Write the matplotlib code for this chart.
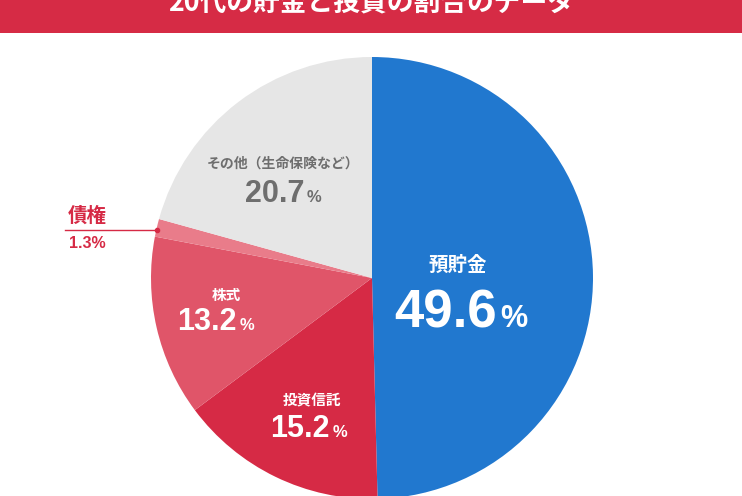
import matplotlib.pyplot as plt

plt.rcParams['font.family'] = ['Noto Sans CJK JP', 'DejaVu Sans']

# データ
labels = ['預貯金', '投資信託', '株式', '債権', 'その他（生命保険など）']
values = [49.6, 15.2, 13.2, 1.3, 20.7]
colors = ['#2178cf', '#d62a45', '#e05569', '#e97c8a', '#e6e6e6']
title = '20代の貯金と投資の割合のデータ'

W, H = 742, 496
fig = plt.figure(figsize=(W / 100, H / 100), dpi=100)
ax = fig.add_axes([0, 0, 1, 1])
ax.set_xlim(0, W)
ax.set_ylim(0, H)
ax.axis('off')

def py(y):
    # ピクセル座標(上から)をデータ座標に変換
    return H - y

# タイトル帯 (上端で切れている)
ax.add_patch(plt.Rectangle((0, py(33)), W, 33, color='#d62b45', lw=0))
ax.text(W / 2, py(2.5), title, ha='center', va='center', fontsize=19.3,
        fontweight='bold', color='white')

# 円グラフ
ax.pie(values, colors=colors, startangle=90, counterclock=False,
       center=(372, py(278)), radius=221, frame=True,
       wedgeprops=dict(linewidth=0))
ax.set_xlim(0, W)
ax.set_ylim(0, H)
ax.axis('off')

num_font = ['Liberation Sans', 'DejaVu Sans']

def pct(x_right, base, val, size, psize, color):
    ax.text(x_right, py(base), f'{val}', ha='right', va='baseline',
            fontsize=size, fontweight='bold', color=color, family=num_font)
    ax.text(x_right + 3, py(base), '%', ha='left', va='baseline',
            fontsize=psize, fontweight='bold', color=color, family=num_font)

# 預貯金
ax.text(458, py(265), labels[0], ha='center', va='center', fontsize=14,
        fontweight='bold', color='white')
pct(497, 327, values[0], 38, 22, 'white')

# 投資信託
ax.text(312, py(400), labels[1], ha='center', va='center', fontsize=10.5,
        fontweight='bold', color='white')
pct(330, 437, values[1], 22, 12, 'white')

# 株式
ax.text(226, py(295), labels[2], ha='center', va='center', fontsize=10.5,
        fontweight='bold', color='white')
pct(237, 330, values[2], 22, 12, 'white')

# その他
ax.text(283, py(164), labels[4], ha='center', va='center', fontsize=10,
        fontweight='bold', color='#6e6e6e')
pct(304, 202, values[4], 22, 12, '#6e6e6e')

# 債権 (引き出し線)
red = '#d62a45'
ax.plot([65, 157], [py(230), py(230)], color=red, lw=1)
ax.plot([157], [py(230)], 'o', color=red, ms=3)
ax.text(68, py(216), labels[3], ha='left', va='center', fontsize=14,
        fontweight='bold', color=red)
ax.text(69, py(243), f'{values[3]}%', ha='left', va='center', fontsize=11.5,
        fontweight='bold', color=red, family=num_font)

fig.savefig('out.png', dpi=100)
